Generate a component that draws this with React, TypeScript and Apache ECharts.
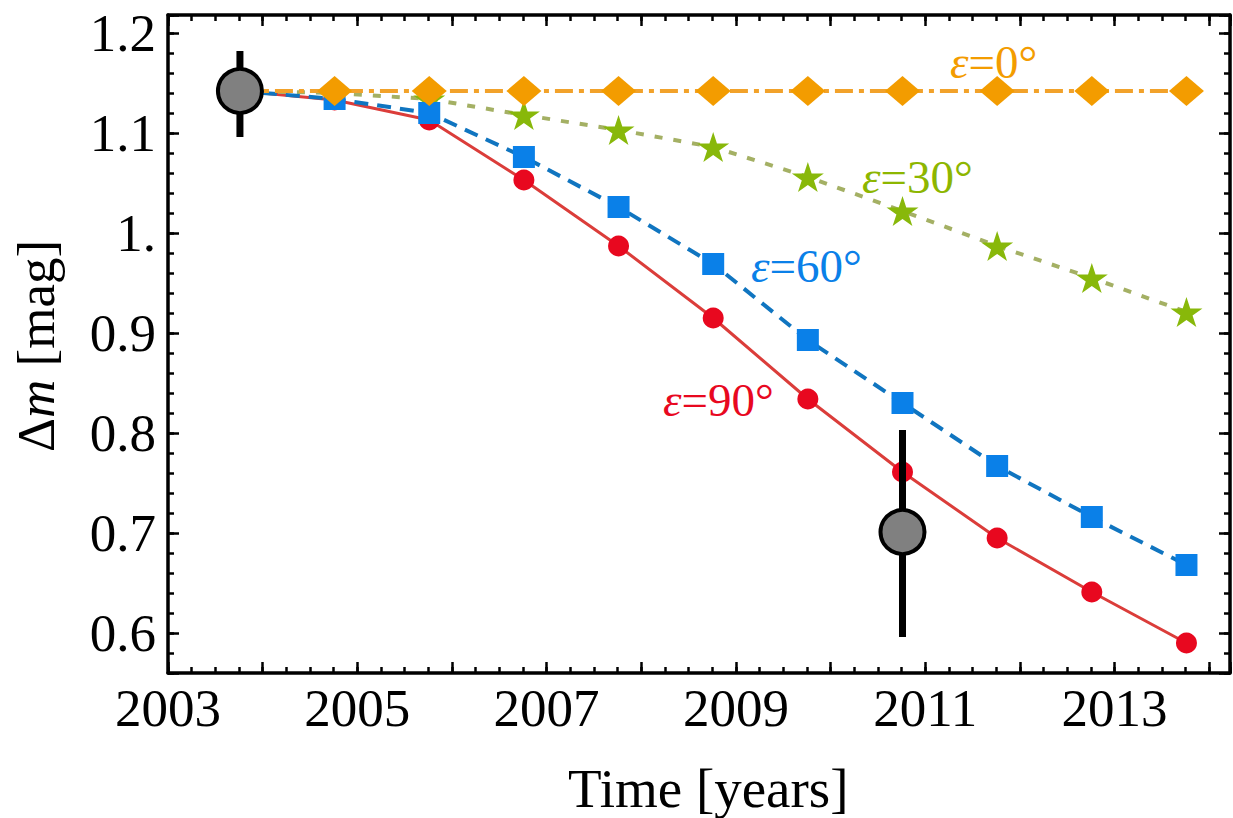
import React, { useEffect, useRef } from "react";
import * as echarts from "echarts";

const years = [2003.76, 2004.76, 2005.76, 2006.76, 2007.76, 2008.76, 2009.76, 2010.76, 2011.76, 2012.76, 2013.76];
const eps0 = [1.142, 1.142, 1.142, 1.142, 1.142, 1.142, 1.142, 1.142, 1.142, 1.142, 1.142];
const eps30 = [1.142, 1.140, 1.134, 1.118, 1.103, 1.086, 1.056, 1.022, 0.987, 0.955, 0.921];
const eps60 = [1.142, 1.134, 1.120, 1.076, 1.026, 0.969, 0.893, 0.830, 0.767, 0.716, 0.668];
const eps90 = [1.142, 1.133, 1.113, 1.053, 0.987, 0.915, 0.834, 0.761, 0.695, 0.641, 0.590];

const obsX = [2003.76, 2010.76];
const obsY = [1.142, 0.701];
const obsLo = [1.096, 0.596];
const obsHi = [1.182, 0.803];

const xMin = 2003;
const xMax = 2014.22;
const yMin = 0.56;
const yMax = 1.218;

const FONT = "Liberation Serif";
const STAR = "path://M50,0 L61.17,34.63 L97.55,34.55 L68.07,55.87 L79.39,90.45 L50,69 L20.61,90.45 L31.93,55.87 L2.45,34.55 L38.83,34.63 Z";

const zip = (xs: number[], ys: number[]) => xs.map((x, i) => [x, ys[i]]);

export default function App() {
  const ref = useRef<HTMLDivElement>(null);
  useEffect(() => {
    document.body.style.margin = "0";
    const chart = echarts.init(ref.current!, null, { renderer: "svg" });
    const lineW = 3.5;
    const majorX = (pos: string, labels: boolean) => ({
      type: "value", position: pos, min: xMin, max: xMax, interval: 1,
      axisLine: { show: true, onZero: false, lineStyle: { color: "#000", width: lineW } },
      axisTick: { show: true, inside: true, length: 11, lineStyle: { color: "#000", width: 2.5 } },
      splitLine: { show: false },
      axisLabel: {
        show: labels, margin: 8, fontFamily: FONT, fontSize: 53, color: "#000",
        formatter: (v: number) => {
          const r = Math.round(v);
          if (Math.abs(v - r) > 1e-6) return "";
          return r % 2 === 1 ? String(r) : "";
        },
      },
    });
    const minorX = (pos: string) => ({
      type: "value", position: pos, min: xMin, max: xMax, interval: 0.25,
      axisLine: { show: false, onZero: false },
      axisTick: { show: true, inside: true, length: 6, lineStyle: { color: "#000", width: 2.5 } },
      splitLine: { show: false },
      axisLabel: { show: false },
    });
    const majorY = (pos: string, labels: boolean) => ({
      type: "value", position: pos, min: yMin, max: yMax, splitNumber: 6,
      axisLine: { show: true, onZero: false, lineStyle: { color: "#000", width: lineW } },
      axisTick: { show: true, inside: true, length: 11, lineStyle: { color: "#000", width: 2.5 } },
      splitLine: { show: false },
      axisLabel: {
        show: labels, margin: 12, fontFamily: FONT, fontSize: 53, color: "#000",
        formatter: (v: number) => {
          const r = Math.round(v * 10) / 10;
          if (Math.abs(v - r) > 1e-6) return "";
          if (Math.abs(r - 1) < 1e-6) return "1.";
          return r.toFixed(1);
        },
      },
    });
    const minorY = (pos: string) => ({
      type: "value", position: pos, min: yMin, max: yMax, interval: 0.02,
      axisLine: { show: false, onZero: false },
      axisTick: { show: true, inside: true, length: 6, lineStyle: { color: "#000", width: 2.5 } },
      splitLine: { show: false },
      axisLabel: { show: false },
    });

    const label = (text: string, left: number, top: number, color: string) => ({
      type: "text", left, top, z: 10,
      style: {
        text, fill: color, font: `47px "${FONT}"`,
        rich: { i: { fontStyle: "italic", fontFamily: FONT, fontSize: 47, fill: color } },
      },
    });

    const option: any = {
      animation: false,
      backgroundColor: "#fff",
      grid: { left: 168, right: 2, top: 15, bottom: 145, containLabel: false },
      xAxis: [majorX("bottom", true), minorX("bottom"), majorX("top", false), minorX("top")],
      yAxis: [majorY("left", true), minorY("left"), majorY("right", false), minorY("right")],
      series: [
        {
          type: "line", name: "eps0", data: zip(years, eps0), z: 3,
          lineStyle: { color: "#F2A22A", width: 4, type: [18, 6, 5, 6] },
          symbol: "diamond", symbolSize: [35, 30],
          itemStyle: { color: "#F39C00" },
        },
        {
          type: "line", name: "eps30", data: zip(years, eps30), z: 2,
          lineStyle: { color: "#A4B064", width: 4, type: [8, 11] },
          symbol: STAR, symbolSize: [32, 30],
          itemStyle: { color: "#88B80A" },
        },
        {
          type: "line", name: "eps60", data: zip(years, eps60), z: 2,
          lineStyle: { color: "#1075C0", width: 4, type: [14, 9] },
          symbol: "rect", symbolSize: 22,
          itemStyle: { color: "#0A80E8" },
        },
        {
          type: "line", name: "eps90", data: zip(years, eps90), z: 1,
          lineStyle: { color: "#DB3D3A", width: 3 },
          symbol: "circle", symbolSize: 21,
          itemStyle: { color: "#E8081F" },
        },
        {
          type: "custom", name: "err", z: 5,
          data: obsX.map((x, i) => [x, obsLo[i], obsHi[i]]),
          renderItem: (params: any, api: any) => {
            const p1 = api.coord([api.value(0), api.value(1)]);
            const p2 = api.coord([api.value(0), api.value(2)]);
            return {
              type: "line",
              shape: { x1: p1[0], y1: p1[1], x2: p2[0], y2: p2[1] },
              style: { stroke: "#000", lineWidth: 7 },
            };
          },
        },
        {
          type: "scatter", name: "obs", z: 6,
          data: zip(obsX, obsY),
          symbol: "circle", symbolSize: 44,
          itemStyle: { color: "#808080", borderColor: "#000", borderWidth: 4, opacity: 1 },
        },
      ],
      graphic: [
        label("{i|ε}=0°", 950, 38, "#F39C00"),
        label("{i|ε}=30°", 862, 153, "#8DB600"),
        label("{i|ε}=60°", 751, 242, "#0A80E8"),
        label("{i|ε}=90°", 663, 376, "#E8081F"),
        {
          type: "text", left: 568, top: 761, z: 10,
          style: { text: "Time [years]", fill: "#000", font: `55px "${FONT}"` },
        },
        {
          type: "text", x: 36, y: 346, rotation: Math.PI / 2, z: 10,
          style: {
            text: "Δ{i|m} [mag]", fill: "#000", font: `53px "${FONT}"`,
            align: "center", verticalAlign: "middle",
            rich: { i: { fontStyle: "italic", fontFamily: FONT, fontSize: 53, fill: "#000" } },
          },
        },
      ],
    };
    chart.setOption(option);
    return () => chart.dispose();
  }, []);
  return <div ref={ref} style={{ width: 1233, height: 818, position: "absolute", left: 0, top: 0 }} />;
}
